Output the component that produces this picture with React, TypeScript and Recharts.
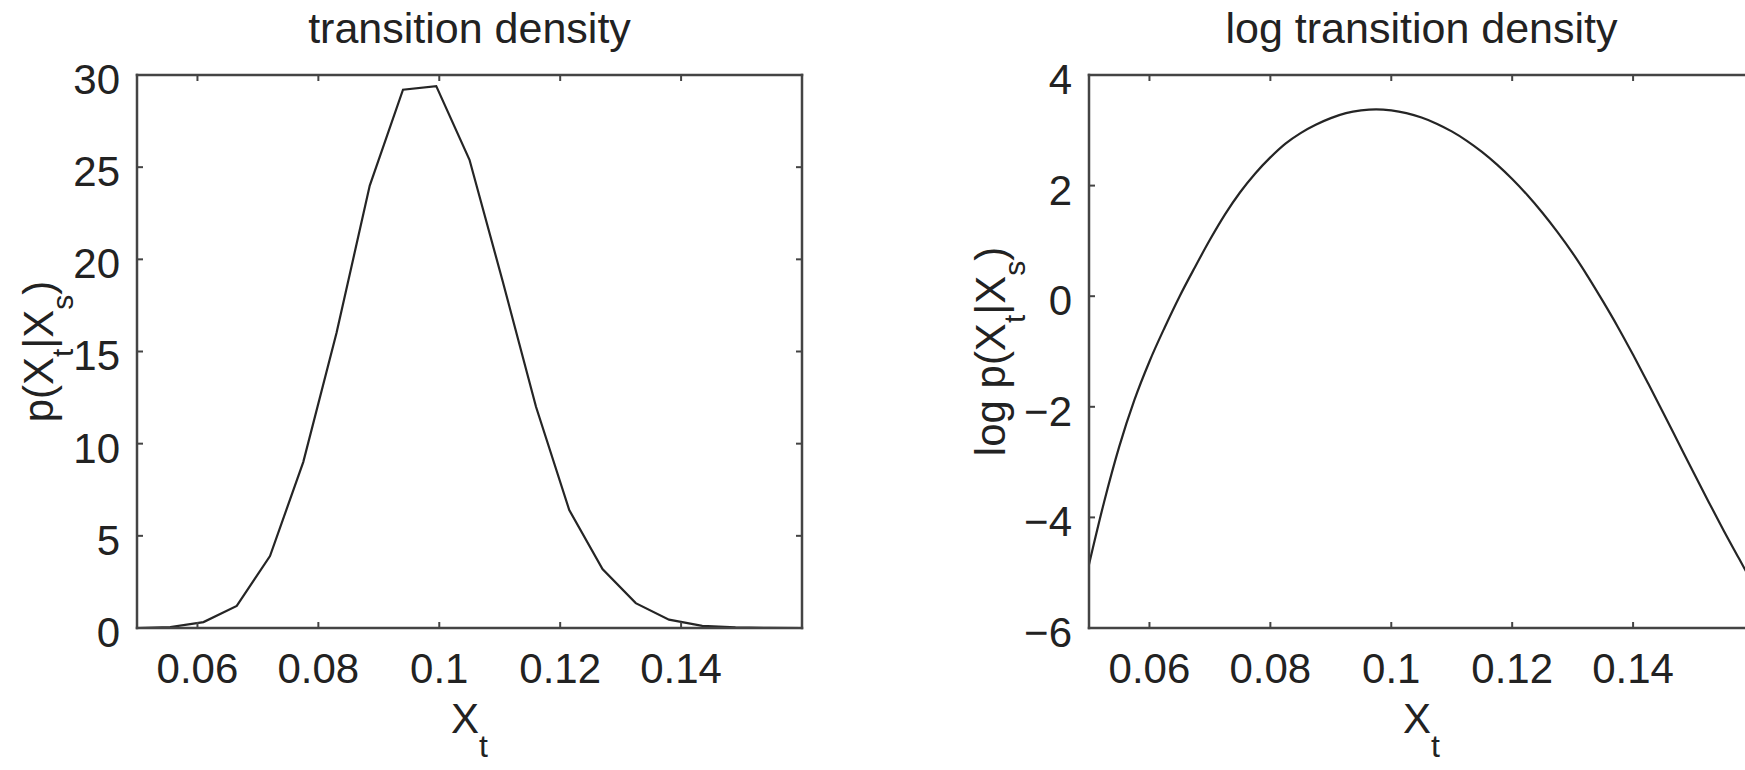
import React from 'react';
import { LineChart, Line, XAxis, YAxis } from 'recharts';

// ---- data ----
const densityX = [0.05, 0.0555, 0.061, 0.0665, 0.072, 0.0775, 0.083, 0.0885, 0.094, 0.0995, 0.105, 0.1105, 0.116, 0.1215, 0.127, 0.1325, 0.138, 0.1435, 0.149, 0.1545, 0.16];
const densityY = [0.0, 0.05, 0.32, 1.2, 3.9, 9.0, 16.0, 24.0, 29.2, 29.4, 25.4, 18.8, 12.0, 6.4, 3.2, 1.35, 0.45, 0.12, 0.03, 0.01, 0.0];

const logX = [0.05, 0.0525, 0.055, 0.0575, 0.06, 0.0625, 0.065, 0.0675, 0.07, 0.0725, 0.075, 0.0775, 0.08, 0.0825, 0.085, 0.0875, 0.09, 0.0925, 0.095, 0.0975, 0.1, 0.1025, 0.105, 0.1075, 0.11, 0.1125, 0.115, 0.1175, 0.12, 0.1225, 0.125, 0.1275, 0.13, 0.1325, 0.135, 0.1375, 0.14, 0.1425, 0.145, 0.1475, 0.15, 0.1525, 0.155, 0.1575, 0.16];
const logY = [-4.85, -3.72, -2.72, -1.88, -1.18, -0.57, 0.0, 0.52, 1.02, 1.48, 1.88, 2.22, 2.51, 2.76, 2.95, 3.1, 3.22, 3.31, 3.36, 3.38, 3.36, 3.31, 3.23, 3.12, 2.98, 2.81, 2.61, 2.38, 2.12, 1.83, 1.51, 1.16, 0.78, 0.36, -0.09, -0.56, -1.06, -1.58, -2.11, -2.65, -3.19, -3.72, -4.24, -4.74, -5.24];

const xTicks = [0.06, 0.08, 0.1, 0.12, 0.14];
const xDomain = [0.05, 0.16];
const densityTicks = [0, 5, 10, 15, 20, 25, 30];
const densityDomain = [0, 30];
const logTicks = [-6, -4, -2, 0, 2, 4];
const logDomain = [-6, 4];

const leftTitle = 'transition density';
const rightTitle = 'log transition density';

const densityData = densityX.map((x, i) => ({ x, p: densityY[i] }));
const logData = logX.map((x, i) => ({ x, p: logY[i] }));

// ---- styles ----
const FONT = "'Liberation Sans', Arial, Helvetica, sans-serif";
const TEXT = '#222';
const AXIS = '#444';
const LINE = '#252525';

const tickStyle = { fontSize: 42, fontFamily: FONT, fill: TEXT };
const yTickStyle = { fontSize: 42, fontFamily: FONT, fill: TEXT, dy: 4 };
const axisLineStyle = { stroke: AXIS, strokeWidth: 2.5, strokeLinecap: 'square' as const };
const tickLineStyle = { stroke: AXIS, strokeWidth: 2 };
const blank = () => '';
const minusFmt = (v: number) => String(v).replace('-', '\u2212');

function makeTitle(title: string) {
  return (props: any) => {
    const vb = props.viewBox || { x: 0, y: 0, width: 0, height: 0 };
    const x = (vb.x ?? 0) + (vb.width ?? 0) / 2;
    const y = (vb.y ?? 0) + 43;
    return (
      <text x={x} y={y} textAnchor="middle" fontSize={43} fontFamily={FONT} fill={TEXT}>
        {title}
      </text>
    );
  };
}

function makeYLabel(prefix: string) {
  return (props: any) => {
    const vb = props.viewBox || { x: 0, y: 0, width: 0, height: 0 };
    const x = (vb.x ?? 0) + (vb.width ?? 0) - 84;
    const y = (vb.y ?? 0) + (vb.height ?? 0) / 2;
    return (
      <text x={x} y={y} transform={`rotate(-90 ${x} ${y})`} textAnchor="middle" fontSize={42} fontFamily={FONT} fill={TEXT}>
        {prefix + 'p(X'}
        <tspan dy={20} fontSize={30}>t</tspan>
        <tspan dy={-20}>|X</tspan>
        <tspan dy={20} fontSize={30}>s</tspan>
        <tspan dy={-20}>)</tspan>
      </text>
    );
  };
}

const xLabel = (props: any) => {
  const vb = props.viewBox || { x: 0, y: 0, width: 0, height: 0 };
  const x = (vb.x ?? 0) + (vb.width ?? 0) / 2;
  const y = (vb.y ?? 0) + 105;
  return (
    <text x={x} y={y} textAnchor="middle" fontSize={42} fontFamily={FONT} fill={TEXT}>
      X<tspan dy={24} fontSize={32}>t</tspan>
    </text>
  );
};

type PanelProps = {
  width: number;
  leftWidth: number;
  rightWidth: number;
  data: { x: number; p: number }[];
  yDomain: number[];
  yTicks: number[];
  title: string;
  yPrefix: string;
  curve: 'linear' | 'monotone';
  yFmt?: (v: number) => string;
};

function Panel(props: PanelProps) {
  const { width, leftWidth, rightWidth, data, yDomain, yTicks, title, yPrefix, curve, yFmt } = props;
  return (
    <LineChart width={width} height={770} data={data} margin={{ top: 0, right: 0, bottom: 0, left: 0 }}>
      <XAxis
        xAxisId="top"
        orientation="top"
        type="number"
        dataKey="x"
        domain={xDomain}
        ticks={xTicks}
        allowDataOverflow
        interval={0}
        height={75}
        tickSize={-6}
        axisLine={axisLineStyle}
        tickLine={tickLineStyle}
        tickFormatter={blank}
        tick={tickStyle}
        label={{ content: makeTitle(title) }}
      />
      <XAxis
        xAxisId="b"
        orientation="bottom"
        type="number"
        dataKey="x"
        domain={xDomain}
        ticks={xTicks}
        allowDataOverflow
        interval={0}
        height={142}
        tickSize={-6}
        tickMargin={31}
        axisLine={axisLineStyle}
        tickLine={tickLineStyle}
        tick={tickStyle}
        label={{ content: xLabel }}
      />
      <YAxis
        yAxisId="l"
        orientation="left"
        type="number"
        domain={yDomain}
        ticks={yTicks}
        allowDataOverflow
        interval={0}
        width={leftWidth}
        tickSize={-6}
        tickMargin={23}
        axisLine={axisLineStyle}
        tickLine={tickLineStyle}
        tick={yTickStyle}
        tickFormatter={yFmt}
        label={{ content: makeYLabel(yPrefix) }}
      />
      <YAxis
        yAxisId="r"
        orientation="right"
        type="number"
        domain={yDomain}
        ticks={yTicks}
        allowDataOverflow
        interval={0}
        width={rightWidth}
        tickSize={-6}
        axisLine={axisLineStyle}
        tickLine={tickLineStyle}
        tickFormatter={blank}
        tick={tickStyle}
      />
      <Line
        xAxisId="b"
        yAxisId="l"
        type={curve}
        dataKey="p"
        stroke={LINE}
        strokeWidth={2.2}
        dot={false}
        activeDot={false}
        isAnimationActive={false}
      />
    </LineChart>
  );
}

export default function App() {
  return (
    <div style={{ position: 'fixed', left: 0, top: 0, width: 1745, height: 770, overflow: 'hidden', background: '#fff' }}>
      <div style={{ position: 'absolute', left: 0, top: 0 }}>
        <Panel
          width={870}
          leftWidth={137}
          rightWidth={68}
          data={densityData}
          yDomain={densityDomain}
          yTicks={densityTicks}
          title={leftTitle}
          yPrefix=""
          curve="linear"
        />
      </div>
      <div style={{ position: 'absolute', left: 870, top: 0 }}>
        <Panel
          width={900}
          leftWidth={219}
          rightWidth={16}
          data={logData}
          yDomain={logDomain}
          yTicks={logTicks}
          title={rightTitle}
          yPrefix="log "
          curve="monotone"
          yFmt={minusFmt}
        />
      </div>
    </div>
  );
}
